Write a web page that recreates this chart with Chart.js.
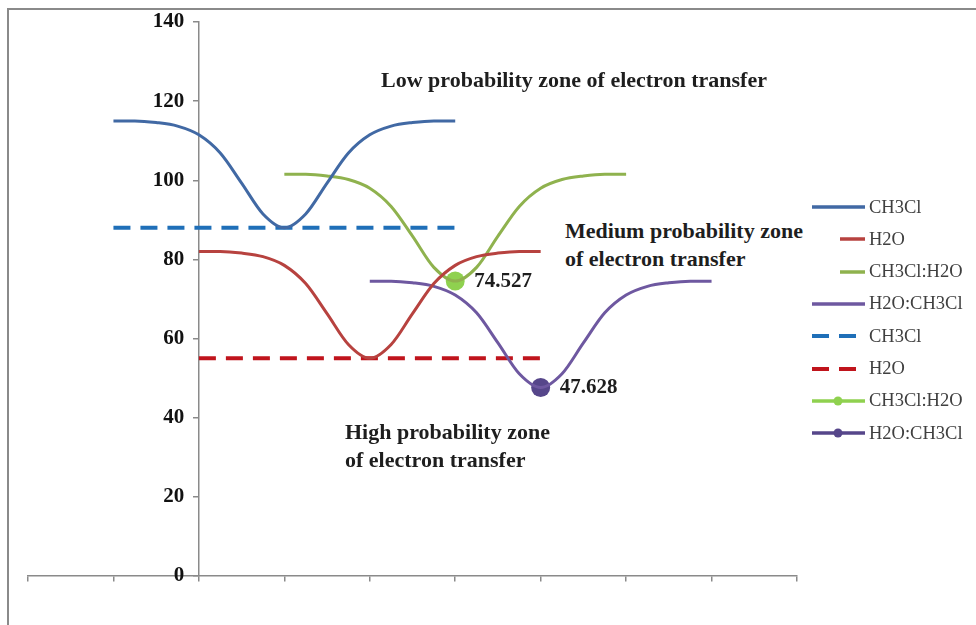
<!DOCTYPE html>
<html>
<head>
<meta charset="utf-8">
<script src="https://cdn.jsdelivr.net/npm/chart.js@4.4.0/dist/chart.umd.min.js"></script>
<style>
  body { margin: 0; background: #fff; }
  #wrap { position: relative; width: 976px; height: 625px; overflow: hidden; font-family: "Liberation Serif", "Times New Roman", serif; }
  #myChart { position: absolute; left: 0; top: 0; }
  #frame { position: absolute; left: 7px; top: 8px; width: 980px; height: 640px; border-left: 2px solid #8a8a8a; border-top: 2px solid #8a8a8a; }
  .note { position: absolute; font-weight: bold; font-size: 22px; color: #1e1e1e; line-height: 28px; white-space: nowrap; }
  #legend { position: absolute; left: 812px; top: 191px; }
  .lrow { position: absolute; left: 0; height: 32px; width: 170px; display: flex; align-items: center; font-size: 18.5px; color: #404040; }
  .lrow svg { margin-right: 4px; }
</style>
</head>
<body>
<div id="wrap">
  <canvas id="myChart" width="976" height="625"></canvas>
  <div id="frame"></div>
  <div id="legend"></div>
  <div class="note" style="left:381px; top:66px;">Low probability zone of electron transfer</div>
  <div class="note" style="left:560px; top:217px; width:275px; height:60px; padding-left:5px; background:#fff;">Medium probability zone<br>of electron transfer</div>
  <div class="note" style="left:345px; top:418px;">High probability zone<br>of electron transfer</div>
</div>
<script>
// values
const xCH3Cl = [-1, -0.75, -0.5, -0.25, 0, 0.25, 0.5, 0.75, 1, 1.25, 1.5, 1.75, 2, 2.25, 2.5, 2.75, 3];
const yCH3Cl = [115, 115, 114.6, 113.7, 111.5, 106.9, 99.3, 91.5, 88, 91.5, 99.3, 106.9, 111.5, 113.7, 114.6, 115, 115];
const xH2O = [0, 0.25, 0.5, 0.75, 1, 1.25, 1.5, 1.75, 2, 2.25, 2.5, 2.75, 3, 3.25, 3.5, 3.75, 4];
const yH2O = [82, 82, 81.6, 80.7, 78.5, 73.9, 66.3, 58.5, 55, 58.5, 66.3, 73.9, 78.5, 80.7, 81.6, 82, 82];
const xCH3ClH2O = [1, 1.25, 1.5, 1.75, 2, 2.25, 2.5, 2.75, 3, 3.25, 3.5, 3.75, 4, 4.25, 4.5, 4.75, 5];
const yCH3ClH2O = [101.5, 101.5, 101.1, 100.2, 98, 93.4, 85.9, 78, 74.527, 78, 85.9, 93.4, 98, 100.2, 101.1, 101.5, 101.5];
const xH2OCH3Cl = [2, 2.25, 2.5, 2.75, 3, 3.25, 3.5, 3.75, 4, 4.25, 4.5, 4.75, 5, 5.25, 5.5, 5.75, 6];
const yH2OCH3Cl = [74.5, 74.5, 74.1, 73.2, 71, 66.5, 58.9, 51.1, 47.628, 51.1, 58.9, 66.5, 71, 73.2, 74.1, 74.5, 74.5];
const xLevelCH3Cl = [-1, 3];
const yLevelCH3Cl = [88, 88];
const xLevelH2O = [0, 4];
const yLevelH2O = [55, 55];
const xMinCH3ClH2O = [3];
const yMinCH3ClH2O = [74.527];
const xMinH2OCH3Cl = [4];
const yMinH2OCH3Cl = [47.628];
const yTicks = [0, 20, 40, 60, 80, 100, 120, 140];

const pts = (xs, ys) => xs.map((x, i) => ({ x: x, y: ys[i] }));

const curve = (label, xs, ys, color) => ({
  label, data: pts(xs, ys), borderColor: color, backgroundColor: color,
  borderWidth: 3, pointRadius: 0, cubicInterpolationMode: "monotone"
});
const level = (label, xs, ys, color) => ({
  label, data: pts(xs, ys), borderColor: color, backgroundColor: color,
  borderWidth: 4, borderDash: [17, 10], pointRadius: 0
});
const marker = (label, xs, ys, color) => ({
  label, data: pts(xs, ys), borderColor: color, backgroundColor: color,
  borderWidth: 3, pointRadius: 9.5, pointBorderWidth: 0, showValue: true
});

const datasets = [
  curve("CH3Cl", xCH3Cl, yCH3Cl, "#4169a4"),
  curve("H2O", xH2O, yH2O, "#b7423f"),
  curve("CH3Cl:H2O", xCH3ClH2O, yCH3ClH2O, "#8fb24e"),
  curve("H2O:CH3Cl", xH2OCH3Cl, yH2OCH3Cl, "#6e58a0"),
  level("CH3Cl", xLevelCH3Cl, yLevelCH3Cl, "#1f6fb8"),
  level("H2O", xLevelH2O, yLevelH2O, "#c0141c"),
  marker("CH3Cl:H2O", xMinCH3ClH2O, yMinCH3ClH2O, "#8fd14f"),
  marker("H2O:CH3Cl", xMinH2OCH3Cl, yMinH2OCH3Cl, "#56468a")
];

const valueLabels = {
  id: "valueLabels",
  afterDatasetsDraw(chart) {
    const c = chart.ctx;
    c.save();
    c.font = "bold 21px 'Liberation Serif'";
    c.fillStyle = "#1e1e1e";
    c.textBaseline = "middle";
    chart.data.datasets.forEach((ds, i) => {
      if (!ds.showValue) return;
      chart.getDatasetMeta(i).data.forEach((p, j) => {
        c.fillText(String(ds.data[j].y), p.x + 19, p.y);
      });
    });
    c.restore();
  }
};

const setTicks = (axis) => { axis.ticks = yTicks.map(v => ({ value: v })); };

const ctx = document.getElementById("myChart").getContext("2d");
const myChart = new Chart(ctx, {
  type: "line",
  data: { datasets: datasets },
  options: {
    responsive: false,
    animation: false,
    layout: { padding: { left: 28, right: 179, top: 22, bottom: 49 } },
    plugins: { legend: { display: false }, tooltip: { enabled: false } },
    scales: {
      x: {
        type: "linear", min: -2, max: 7, position: { y: 0 },
        ticks: { display: false, stepSize: 1 },
        grid: { drawOnChartArea: false, tickLength: 5, color: "#8a8a8a", lineWidth: 1.5 },
        border: { color: "#8a8a8a", width: 1.5 }
      },
      y: {
        min: 0, max: 140, position: { x: 0 },
        afterBuildTicks: setTicks,
        ticks: { display: false },
        grid: { drawOnChartArea: false, tickLength: 5, color: "#8a8a8a", lineWidth: 1.5 },
        border: { color: "#8a8a8a", width: 1.5 }
      },
      // tick labels sit a little left of the axis line
      yLabels: {
        min: 0, max: 140, position: { x: -0.17 },
        afterBuildTicks: setTicks,
        ticks: { color: "#111", font: { family: "'Liberation Serif'", size: 21, weight: "bold" } },
        grid: { display: false },
        border: { display: false }
      }
    }
  },
  plugins: [valueLabels]
});

// legend built from the datasets
const legend = document.getElementById("legend");
datasets.forEach((ds, i) => {
  const row = document.createElement("div");
  row.className = "lrow";
  row.style.top = (i * 32.3) + "px";
  const dash = ds.borderDash ? `stroke-dasharray="17 10"` : "";
  const dot = ds.showValue ? `<circle cx="26" cy="6" r="4.5" fill="${ds.borderColor}"/>` : "";
  row.innerHTML = `<svg width="53" height="12"><line x1="0" y1="6" x2="53" y2="6" stroke="${ds.borderColor}" stroke-width="${ds.borderDash ? 4 : 3.5}" ${dash}/>${dot}</svg><span>${ds.label}</span>`;
  legend.appendChild(row);
});
</script>
</body>
</html>
